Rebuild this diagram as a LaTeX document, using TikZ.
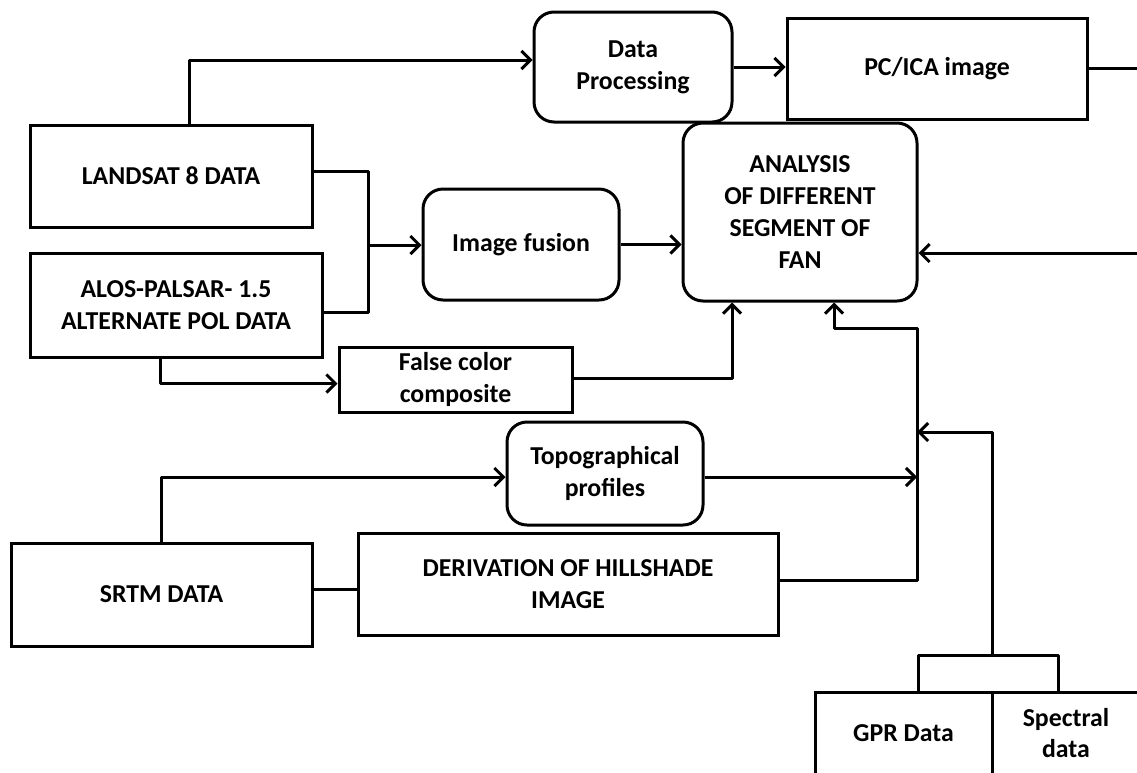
\documentclass[tikz,border=0pt]{standalone}
\usepackage{fontspec}
\setmainfont{Carlito}
\usetikzlibrary{calc,arrows.meta}
\newcommand{\Stroke}{3pt}
\newcommand{\Corner}{20pt}
\definecolor{ink}{HTML}{000000}

\tikzset{
  box/.style={draw=ink,line width=\Stroke,fill=white,align=center,
    font=\fontsize{25.8}{31.7}\selectfont\bfseries,inner sep=2pt},
  roundbox/.style={box,rounded corners=\Corner},
  wire/.style={ink,line width=\Stroke,line join=round},
  arr/.style={wire,-{Straight Barb[length=9pt,width=18pt,line width=3pt]}}
}

\begin{document}
\begin{tikzpicture}[x=1pt,y=-1pt]

  \useasboundingbox (0,0) rectangle (1137,772);
  \clip (0,0) rectangle (1137,772);

  % ---- sources on the left ------------------------------------------------
  \node[box,minimum width=282,minimum height=102] (landsat) at (171,176) {LANDSAT 8 DATA};
  \node[box,minimum width=292,minimum height=104] (alos) at (176,305) {ALOS-PALSAR- 1.5\\ALTERNATE POL DATA};
  \node[box,minimum width=301,minimum height=103] (srtm) at (161.5,594.5) {SRTM DATA};

  % ---- processing steps ---------------------------------------------------
  \node[roundbox,minimum width=198,minimum height=110] (dp) at (633,67) {Data\\Processing};
  \node[box,minimum width=300,minimum height=101] (pcica) at (937,68.5) {PC/ICA image};
  \node[roundbox,minimum width=196,minimum height=111] (fusion) at (521,244.5) {Image fusion};
  \node[box,minimum width=233,minimum height=65] (falsecol) at (455.5,379.5) {False color\\composite};
  \node[roundbox,minimum width=196,minimum height=103] (topo) at (605,473.5) {Topographical\\profiles};
  \node[box,minimum width=420,minimum height=102] (hill) at (568,584) {DERIVATION OF HILLSHADE\\IMAGE};

  % ---- the target: a tall rounded box in the middle -----------------------
  \node[roundbox,minimum width=234,minimum height=178] (analysis) at (800,212)
    {ANALYSIS\\OF DIFFERENT\\SEGMENT OF\\FAN};

  % ---- field data, running off the bottom edge ----------------------------
  \node[box,minimum width=177,minimum height=82] (gpr) at (903.5,733) {GPR Data};
  \node[box,minimum width=148,minimum height=82] (spectral) at (1066,733) {Spectral\\data};

  % ---- junction points ----------------------------------------------------
  \coordinate (join) at (368,245);
  \coordinate (bus) at (917,328);
  \coordinate (gprin) at (917,432);
  \coordinate (fork) at (992,655);
  \coordinate (pcout) at (1140,68.5);
  \coordinate (fanin) at (1140,253);

  % ---- top row ------------------------------------------------------------
  \draw[arr] ([xshift=18pt]landsat.north) |- ([yshift=7pt]dp.west);
  \draw[arr] (dp.east) -- (dp.east -| pcica.west);
  \draw[wire] (pcica.east) -- (pcout);
  \draw[arr] (fanin) -- (fanin -| analysis.east);

  % ---- landsat + alos into the fusion -------------------------------------
  \draw[wire] ([yshift=5pt]landsat.east) -| (join) |- ([yshift=-7pt]alos.east);
  \draw[arr] (join) -- (join -| fusion.west);
  \draw[arr] (fusion.east) -- (fusion.east -| analysis.west);

  % ---- false colour composite ---------------------------------------------
  \draw[arr] ([xshift=-16pt]alos.south) |- ([yshift=-4pt]falsecol.west);
  \draw[arr] ([yshift=1.5pt]falsecol.east) -| ([xshift=-68pt]analysis.south);

  % ---- srtm branch and the collector on the right -------------------------
  \draw[arr] (srtm.north) |- ([yshift=-3.5pt]topo.west);
  \draw[wire] ([yshift=5.5pt]srtm.east) -- ([yshift=5.5pt]srtm.east -| hill.west);
  \draw[arr] ([yshift=4pt]hill.east) -| (bus) -| ([xshift=34pt]analysis.south);
  \draw[arr] ([yshift=-3.5pt]topo.east) -- ([yshift=-3.5pt]topo.east -| bus);

  % ---- gpr + spectral fork ------------------------------------------------
  \draw[wire] ([xshift=14.5pt]gpr.north) |- (fork) -| ([xshift=-8pt]spectral.north);
  \draw[arr] (fork) |- (gprin);

\end{tikzpicture}
\end{document}
